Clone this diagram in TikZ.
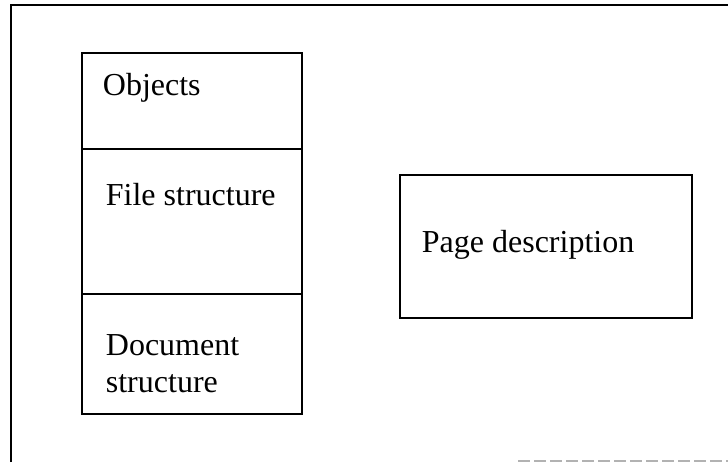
\documentclass[tikz,border=0pt]{standalone}
\usepackage{fontspec}
\setmainfont{Liberation Serif}
\usepackage{tikz}
\usetikzlibrary{positioning}

\begin{document}
\begin{tikzpicture}[x=0.5pt, y=-0.5pt, line width=0.9pt, font=\fontsize{16}{18.5}\selectfont]
      \useasboundingbox (0,0) rectangle (728,462);
      \tikzset{part/.style={draw, inner sep=0pt, outer sep=0pt, minimum width=110pt, anchor=north west},
               txt/.style={inner sep=0pt, anchor=base west, align=left}}

      % frame (cut off at the right and at the bottom)
      \coordinate (FB) at (11,462);
      \coordinate (FL) at (11,5);
      \coordinate (FR) at (728,5);
      \draw (FB) -- (FL) -- (FR);
      \coordinate (BL) at (518,461);
      \coordinate (BR) at (728,461);
      \draw[black!30, line width=0.6pt, dash pattern=on 6pt off 2pt] (BL) -- (BR);

      \node[part, minimum height=48pt]   (O)  at (82, 53)  {};
      \node[part, minimum height=72.5pt] (FS) at (82, 149) {};
      \node[part, minimum height=60pt]   (DS) at (82, 294) {};

      \node[draw, inner sep=0pt, minimum width=146pt, minimum height=71.5pt, anchor=north west] (PD) at (399, 174) {};

      \node[txt]  (Ot)  at (102, 95)  {Objects};
      \node[txt]  (FSt) at (105, 205) {File structure};
      \node[txt]  (DSt) at (105, 392) {Document \\ structure};
      \node[txt]  (PDt) at (421, 252) {Page description};
    \end{tikzpicture}
\end{document}
